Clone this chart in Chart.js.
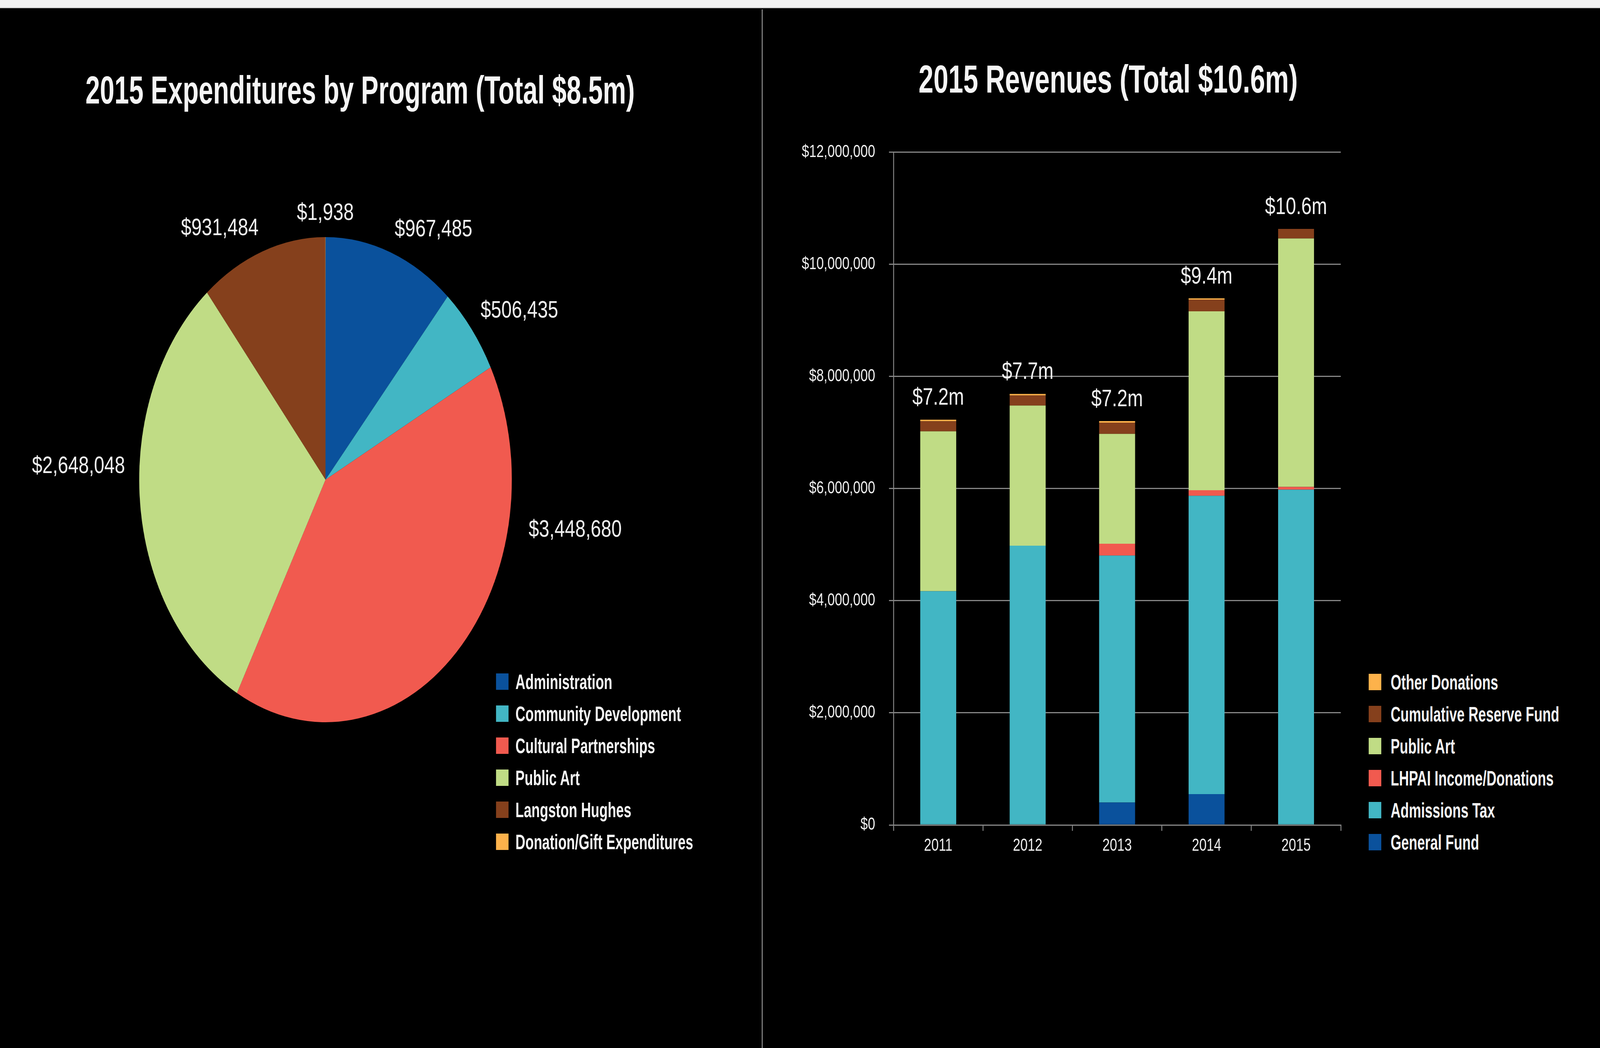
<!DOCTYPE html>
<html>
<head>
<meta charset="utf-8">
<script src="https://cdn.jsdelivr.net/npm/chart.js@4/dist/chart.umd.min.js"></script>
<style>
  html, body { margin: 0; padding: 0; background: #000; overflow: hidden; }
  #stage { position: absolute; left: 0; top: 0; width: 5333px; height: 2683px; transform-origin: 0 0; background: #000; }
  #topbar { position: absolute; left: 0; top: 0; width: 5333px; height: 19px; background: #f2f2f2; border-bottom: 2px solid #c8c8c8; }
  #divider { position: absolute; left: 2539px; top: 24px; width: 3px; height: 2659px; background: #9a9a9a; }
  .title { position: absolute; color: #f5f5f5; font-family: "Liberation Sans", Arial, sans-serif;
           font-weight: bold; font-size: 100px; line-height: 100px; white-space: nowrap; transform-origin: 50% 50%; }
  .box { position: absolute; }
  .legend { position: absolute; font-family: "Liberation Sans", Arial, sans-serif;
            font-weight: bold; font-size: 54px; color: #f5f5f5; }
  .legend .row { position: absolute; left: 0; height: 42px; line-height: 42px; white-space: nowrap; }
  .legend .sw { position: absolute; left: 0; top: 0; width: 42px; height: 42px; }
  .legend .tx { position: absolute; top: 0; transform-origin: 0 50%; }
</style>
</head>
<body>
<div id="stage">
<div id="topbar"></div>
<div id="divider"></div>
<div class="title" id="t1" style="top:180px;">2015 Expenditures by Program (Total $8.5m)</div>
<div class="title" id="t2" style="top:152px;">2015 Revenues (Total $10.6m)</div>

<div class="box" style="left:0; top:0; width:2170px; height:2456px;"><canvas id="pieChart"></canvas></div>
<div class="box" style="left:2600px; top:317px; width:1900px; height:1927px;"><canvas id="barChart"></canvas></div>

<div class="legend" id="pieLegend" style="left:1653px; top:1724px;"></div>
<div class="legend" id="barLegend" style="left:4562px; top:1725px;"></div>
</div>

<script>
// expenditures 2015 (pie)
const pieLabels = ['Administration', 'Community Development', 'Cultural Partnerships', 'Public Art', 'Langston Hughes', 'Donation/Gift Expenditures'];
const pieValues = [967485, 506435, 3448680, 2648048, 931484, 1938];

// revenues by year (stacked bars)
const years = ['2011', '2012', '2013', '2014', '2015'];
const generalFund    = [0, 0, 400000, 550000, 0];
const admissionsTax  = [4170000, 4980000, 4405000, 5320000, 5980000];
const lhpaiIncome    = [0, 0, 210000, 100000, 50000];
const publicArtRev   = [2850000, 2500000, 1960000, 3190000, 4430000];
const reserveFund    = [180000, 180000, 200000, 210000, 170000];
const otherDonations = [28000, 28000, 28000, 22000, 0];

const revenueNames = ['General Fund', 'Admissions Tax', 'LHPAI Income/Donations', 'Public Art', 'Cumulative Reserve Fund', 'Other Donations'];

const BLUE = '#0a519c', TEAL = '#42b6c4', RED = '#f15a4f', GREEN = '#c0dc85', BROWN = '#85401c', ORANGE = '#fdb24b';
const pieColors = [BLUE, TEAL, RED, GREEN, BROWN, ORANGE];
const barColors = [BLUE, TEAL, RED, GREEN, BROWN, ORANGE];

const TEXT = '#f2f2f2';
const REG = '"Liberation Sans", Arial, sans-serif';

// fit the 5333x2683 layout into whatever window we get
const stage = document.getElementById('stage');
const sx = window.innerWidth / 5333, sy = window.innerHeight / 2683;
stage.style.transform = 'scale(' + sx + ',' + sy + ')';

function money(v) {
    return '$' + Math.round(v).toLocaleString('en-US');
}

// condensed look: squeeze a bold font to a measured width
const measureCtx = document.createElement('canvas').getContext('2d');
function textWidth(str, font) {
    measureCtx.font = font;
    return measureCtx.measureText(str).width;
}
function placeTitle(el, centerX, targetW) {
    const w = textWidth(el.textContent, 'bold 100px ' + REG);
    el.style.left = (centerX - w / 2) + 'px';
    el.style.transform = 'scaleX(' + (targetW / w) + ')';
}
placeTitle(document.getElementById('t1'), 1200, 1831);
placeTitle(document.getElementById('t2'), 3694, 1264);
const legendSqueeze = 323 / textWidth('Administration', 'bold 54px ' + REG);

// labels outside the pie, Excel style (corner of label touches the anchor point)
const pieLabelPlugin = {
    id: 'pieLabels',
    afterDatasetsDraw(chart, args, opts) {
        const ctx = chart.ctx;
        const meta = chart.getDatasetMeta(0);
        ctx.save();
        ctx.font = '62px ' + REG;
        ctx.fillStyle = TEXT;
        ctx.textAlign = 'center';
        ctx.textBaseline = 'middle';
        meta.data.forEach((arc, i) => {
            const r = arc.outerRadius;
            const text = money(chart.data.datasets[0].data[i]);
            const w = ctx.measureText(text).width;
            const h = 46;
            let x, y;
            const ov = opts.overrides[i];
            if (ov) {
                // moved labels: angle from top (clockwise) and distance as a fraction of radius
                const a = (ov.angle - 90) * Math.PI / 180;
                x = arc.x + Math.cos(a) * r * ov.dist;
                y = arc.y + Math.sin(a) * r * ov.dist;
            } else {
                const mid = (arc.startAngle + arc.endAngle) / 2;
                const R = r + 38;
                const ax = arc.x + Math.cos(mid) * R;
                const ay = arc.y + Math.sin(mid) * R;
                const kx = Math.max(-1, Math.min(1, Math.cos(mid) * 3));
                const ky = Math.max(-1, Math.min(1, Math.sin(mid) * 3));
                x = ax + kx * w / 2;
                y = ay + ky * h / 2;
            }
            ctx.fillText(text, x, y);
        });
        ctx.restore();
    }
};

new Chart(document.getElementById('pieChart'), {
    type: 'pie',
    data: {
        labels: pieLabels,
        datasets: [{ data: pieValues, backgroundColor: pieColors, borderWidth: 0 }]
    },
    options: {
        responsive: true,
        maintainAspectRatio: false,
        animation: false,
        layout: { padding: { left: 464, right: 464, top: 607, bottom: 607 } },
        plugins: {
            legend: { display: false },
            tooltip: { enabled: false },
            pieLabels: { overrides: { 2: { angle: 98.8, dist: 1.356 }, 3: { angle: 272.4, dist: 1.327 } } }
        }
    },
    plugins: [pieLabelPlugin]
});

// totals above the stacks
const totalsPlugin = {
    id: 'totals',
    afterDatasetsDraw(chart) {
        const ctx = chart.ctx;
        const xs = chart.scales.x, ys = chart.scales.y;
        ctx.save();
        ctx.font = '62px ' + REG;
        ctx.fillStyle = TEXT;
        ctx.textAlign = 'center';
        ctx.textBaseline = 'alphabetic';
        chart.data.labels.forEach((lab, i) => {
            let sum = 0;
            chart.data.datasets.forEach(ds => { sum += ds.data[i]; });
            const x = xs.getPixelForValue(i);
            const y = ys.getPixelForValue(sum);
            ctx.fillText('$' + (sum / 1e6).toFixed(1) + 'm', x, y - 38);
        });
        ctx.restore();
    }
};

const seriesData = [generalFund, admissionsTax, lhpaiIncome, publicArtRev, reserveFund, otherDonations];

new Chart(document.getElementById('barChart'), {
    type: 'bar',
    data: {
        labels: years,
        datasets: seriesData.map((d, i) => ({
            label: revenueNames[i],
            data: d,
            backgroundColor: barColors[i],
            borderWidth: 0,
            categoryPercentage: 1,
            barPercentage: 0.402
        }))
    },
    options: {
        responsive: true,
        maintainAspectRatio: false,
        animation: false,
        layout: { padding: { left: 0, right: 31, top: 0, bottom: 0 } },
        plugins: { legend: { display: false }, tooltip: { enabled: false } },
        scales: {
            x: {
                stacked: true,
                afterFit: s => { s.height = 132; },
                grid: { drawOnChartArea: false, drawTicks: true, tickLength: 15, color: '#868686', lineWidth: 3 },
                border: { display: true, color: '#868686', width: 3 },
                ticks: { color: TEXT, font: { family: REG, size: 44 }, padding: 12 }
            },
            y: {
                stacked: true,
                min: 0,
                max: 12000000,
                afterFit: s => { s.width = 378; },
                ticks: {
                    stepSize: 2000000,
                    color: TEXT,
                    font: { family: REG, size: 44 },
                    padding: 46,
                    callback: v => money(v)
                },
                grid: { color: '#868686', lineWidth: 3, drawTicks: true, tickLength: 15 },
                border: { display: true, color: '#868686', width: 3 }
            }
        }
    },
    plugins: [totalsPlugin]
});

// legends (html)
function buildLegend(el, names, colors, order, textLeft) {
    order.forEach((idx, row) => {
        const r = document.createElement('div');
        r.className = 'row';
        r.style.top = (row * 82) + 'px';
        const sw = document.createElement('div');
        sw.className = 'sw';
        sw.style.background = colors[idx];
        const tx = document.createElement('div');
        tx.className = 'tx';
        tx.style.left = textLeft + 'px';
        tx.style.transform = 'scaleX(' + legendSqueeze + ')';
        tx.textContent = names[idx];
        r.appendChild(sw);
        r.appendChild(tx);
        el.appendChild(r);
    });
}
buildLegend(document.getElementById('pieLegend'), pieLabels, pieColors, [0, 1, 2, 3, 4, 5], 65);
buildLegend(document.getElementById('barLegend'), revenueNames, barColors, [5, 4, 3, 2, 1, 0], 73);
</script>
</body>
</html>
